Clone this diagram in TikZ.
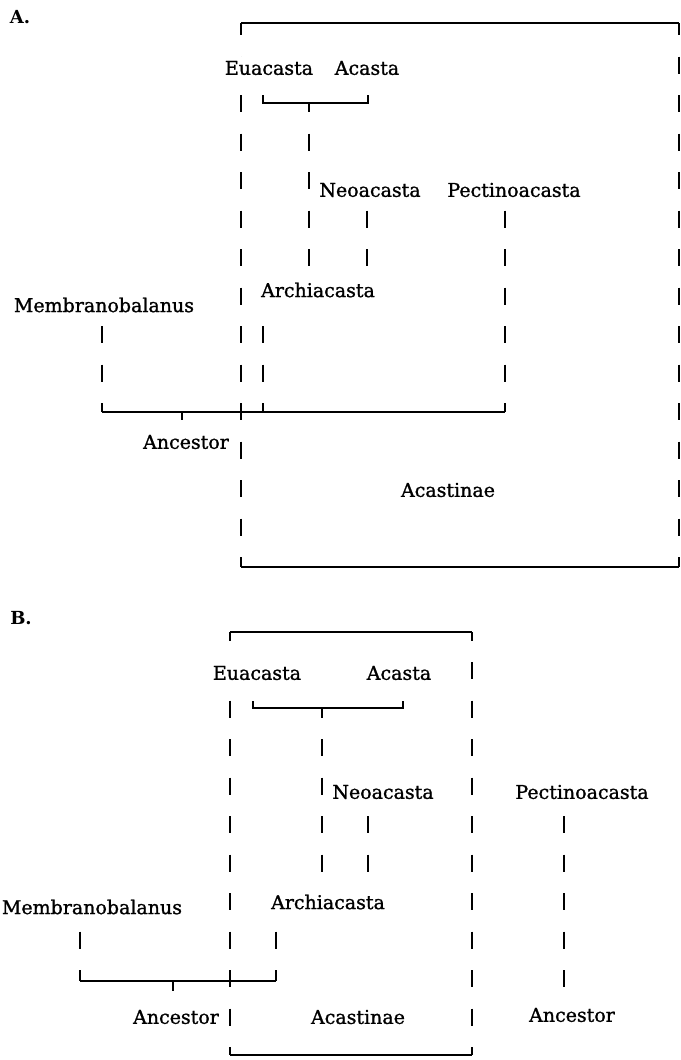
\documentclass[tikz,border=0pt]{standalone}
\usepackage{fontspec}
\setmainfont{DejaVu Serif}
\newfontfamily\taxfont[FakeBold=1.2]{DejaVu Serif}
\usepackage{tikz}

\begin{document}
\begin{tikzpicture}[x=1pt, y=-1pt, line width=1.7pt,
  vdash/.style={dash pattern=on 17pt off 21.5pt, dash phase=#1},
  vdash/.default=0pt,
  taxon/.style={font=\taxfont\fontsize{19}{22}\selectfont, fill=white, inner xsep=1pt, inner ysep=4pt},
  panel/.style={font=\fontsize{18}{20}\selectfont\bfseries, inner sep=1pt}]
\useasboundingbox (0,0) rectangle (680,1060);

% Panel A
\begin{scope}
\coordinate (A-tl) at (241,23);
\coordinate (A-tr) at (679,23);
\coordinate (A-bl) at (241,567);
\coordinate (A-br) at (679,567);
\draw (A-tl) -- (A-tr);
\draw (A-bl) -- (A-br);
\draw[vdash=5pt] (A-tl) -- (A-bl);
\draw[vdash=5pt] (A-tr) -- (A-br);
% Euacasta + Acasta
\coordinate (A-eu) at (263,95);
\coordinate (A-ac) at (368,95);
\coordinate (A-ea) at (309,103);
\coordinate (A-eab) at (309,267);
\draw (A-eu) -- (A-eu |- A-ea) -- (A-ac |- A-ea) -- (A-ac);
\draw[vdash=8pt] (A-ea) -- (A-eab);
\coordinate (A-ne) at (367,210.5);
\coordinate (A-neb) at (367,267);
\draw[vdash] (A-ne) -- (A-neb);
\coordinate (A-pe) at (505,210.5);
\coordinate (A-peb) at (505,412);
\draw[vdash] (A-pe) -- (A-peb);
\coordinate (A-ar) at (263,326);
\coordinate (A-arb) at (263,412);
\draw[vdash] (A-ar) -- (A-arb);
\coordinate (A-me) at (102,326);
\coordinate (A-meb) at (102,412);
\draw[vdash] (A-me) -- (A-meb);
\draw (A-meb) -- (A-peb);
\coordinate (A-root) at (182,412);
\draw (A-root) -- ++(0,8);
% labels
\node[panel] (A-lab) at (20,17) {A.};
\node[taxon] (euacA) at (269,68) {Euacasta};
\node[taxon] (acastaA) at (367,68) {Acasta};
\node[taxon] (neoA) at (370,190) {Neoacasta};
\node[taxon] (pectA) at (514,190) {Pectinoacasta};
\node[taxon] (archA) at (318,290) {Archiacasta};
\node[taxon] (membA) at (104,305) {Membranobalanus};
\node[taxon] (ancA) at (186,442) {Ancestor};
\node[taxon] (acstA) at (448,490) {Acastinae};
\end{scope}

% Panel B
\begin{scope}
\coordinate (B-tl) at (230,632);
\coordinate (B-tr) at (472,632);
\coordinate (B-bl) at (230,1055);
\coordinate (B-br) at (472,1055);
\draw (B-tl) -- (B-tr);
\draw (B-bl) -- (B-br);
\draw[vdash=8.5pt] (B-tl) -- (B-bl);
\draw[vdash=8.5pt] (B-tr) -- (B-br);
% Euacasta + Acasta
\coordinate (B-eu) at (253,701);
\coordinate (B-ac) at (403,701);
\coordinate (B-ea) at (322,708);
\coordinate (B-eab) at (322,872);
\draw (B-eu) -- (B-eu |- B-ea) -- (B-ac |- B-ea) -- (B-ac);
\draw[vdash=7.5pt] (B-ea) -- (B-eab);
\coordinate (B-ne) at (368,816);
\coordinate (B-neb) at (368,872);
\draw[vdash] (B-ne) -- (B-neb);
\coordinate (B-pe) at (564,816);
\coordinate (B-peb) at (564,988);
\draw[vdash] (B-pe) -- (B-peb);
\coordinate (B-ar) at (276,931.5);
\coordinate (B-arb) at (276,981);
\draw[vdash] (B-ar) -- (B-arb);
\coordinate (B-me) at (80,931.5);
\coordinate (B-meb) at (80,981);
\draw[vdash] (B-me) -- (B-meb);
\draw (B-meb) -- (B-arb);
\coordinate (B-root) at (173,981);
\draw (B-root) -- ++(0,10);
% labels
\node[panel] (B-lab) at (21,618) {B.};
\node[taxon] (euacB) at (257,673) {Euacasta};
\node[taxon] (acastaB) at (399,673) {Acasta};
\node[taxon] (neoB) at (383,792) {Neoacasta};
\node[taxon] (pectB) at (582,792) {Pectinoacasta};
\node[taxon] (archB) at (328,902) {Archiacasta};
\node[taxon] (membB) at (92,907) {Membranobalanus};
\node[taxon] (ancB) at (176,1017) {Ancestor};
\node[taxon] (acstB) at (358,1017) {Acastinae};
\node[taxon] (ancB2) at (572,1015) {Ancestor};
\end{scope}
\end{tikzpicture}
\end{document}
